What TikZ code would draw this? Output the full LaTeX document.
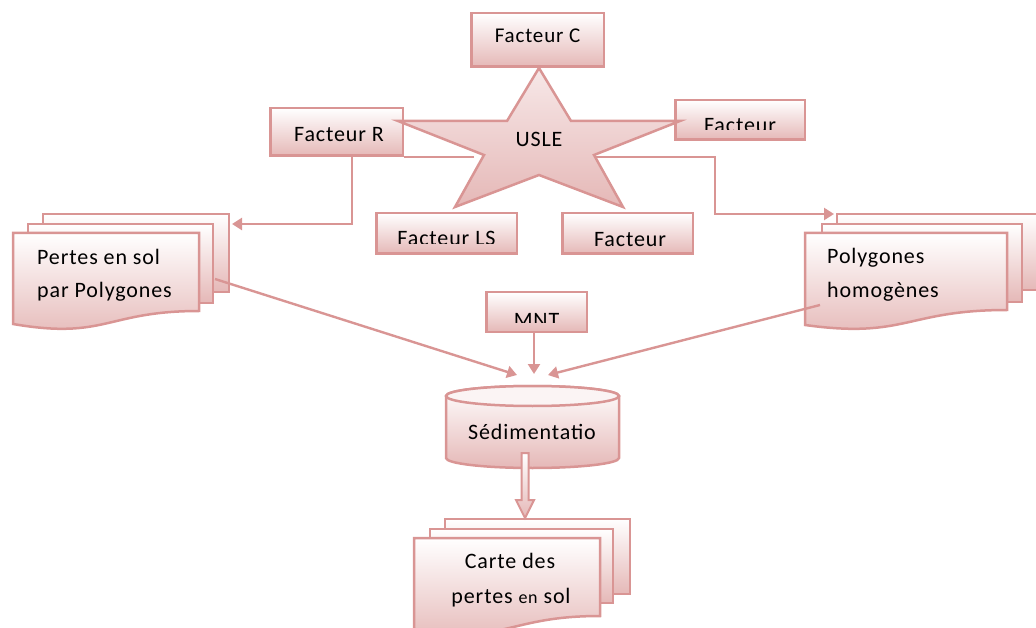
\documentclass[tikz,border=0pt]{standalone}
\usepackage{fontspec}
\setmainfont{Carlito}[LetterSpace=4]
\usetikzlibrary{arrows.meta}
\definecolor{edgepink}{RGB}{217,149,148}
\definecolor{fillpink}{RGB}{229,184,183}
\definecolor{starpink}{RGB}{247,232,232}
\tikzset{
  box/.style={draw=edgepink, line width=2.5pt, top color=white, bottom color=fillpink, inner sep=0pt},
  sheet/.style={draw=edgepink, line width=2.5pt, top color=white, bottom color=fillpink},
  starfill/.style={draw=edgepink, line width=2.5pt, top color=starpink, bottom color=fillpink},
  link/.style={draw=edgepink, line width=2.4pt},
  arr/.style={link, -{Triangle[length=10pt,width=12pt]}},
  lbl/.style={inner sep=0pt, anchor=base, font=\fontsize{22}{26}\selectfont},
}
\begin{document}
\begin{tikzpicture}[x=1pt, y=-1pt]
\useasboundingbox (0,0) rectangle (1036,628);
\clip (0,0) rectangle (1036,628);

% ---- factor boxes ----
\node[box, minimum width=132.5pt, minimum height=53.5pt] (bC)  at (537.5,40) {};
\node[box, minimum width=132.5pt, minimum height=47.5pt] (bR)  at (336.5,132) {};
\node[box, minimum width=129.5pt, minimum height=39.5pt] (bK)  at (740,120) {};
\node[box, minimum width=140.5pt, minimum height=40.5pt] (bLS) at (446.5,233.5) {};
\node[box, minimum width=130.5pt, minimum height=40.5pt] (bP)  at (627.5,233.5) {};
\node[box, minimum width=100.5pt, minimum height=39.5pt] (bMNT) at (536.5,312) {};

% ---- stacked documents: soil loss by polygons ----
\path[sheet] (43,214) rectangle (229,292);
\path[sheet] (28,224) rectangle (213,303);
\path[sheet] (13,233) -- (199,233) -- (199,311)
  .. controls (106,311) and (106,340) .. (13,324) -- cycle;
\coordinate (dLin)  at (232,224);
\coordinate (dLout) at (215,279);

% ---- stacked documents: homogeneous polygons ----
\path[sheet] (837,214) rectangle (1046,290);
\path[sheet] (822,224) rectangle (1022,302);
\path[sheet] (805,233) -- (1007,233) -- (1007,310)
  .. controls (906,310) and (906,339) .. (805,325) -- cycle;
\coordinate (dRin)  at (834,214);
\coordinate (dRout) at (820,305);

% ---- stacked documents: soil loss map ----
\path[sheet] (445,519) rectangle (630,594);
\path[sheet] (430,529) rectangle (613,603);
\path[sheet] (414,538) -- (600,538) -- (600,616)
  .. controls (507,616) and (507,645) .. (414,629) -- cycle;

% ---- sedimentation cylinder ----
\path[sheet] (446,396) -- (446,458)
  arc[start angle=180, end angle=0, x radius=86.5, y radius=10]
  -- (619,396)
  arc[start angle=0, end angle=-180, x radius=86.5, y radius=10] -- cycle;
\draw[draw=edgepink, line width=2.5pt, fill=white!85!fillpink]
  (532.5,396) ellipse[x radius=86.5, y radius=10];
\coordinate (inL) at (517,375);
\coordinate (inM) at (534,374);
\coordinate (inR) at (548,375);
\coordinate (sedBot) at (525,453);
\coordinate (mapTop) at (525,518);

% ---- USLE star ----
\path[starfill] (539,68) -- (571,121) -- (680,121) -- (594,155) -- (623,207)
  -- (539,175) -- (455,207) -- (484,155) -- (398,121) -- (507,121) -- cycle;
\coordinate (sL) at (474,157);
\coordinate (sR) at (596,157);

% ---- connectors ----
\draw[link] (sL) -- (bR.south east);
\draw[arr] ([xshift=15.5pt]bR.south) |- (dLin);
\draw[arr] (sR) -- ++(119,0) |- (dRin);
\draw[arr] (dLout) -- (inL);
\draw[arr] (bMNT.south -| inM) -- (inM);
\draw[arr] (dRout) -- (inR);

% block arrow from the cylinder to the map
\path[sheet, line width=2pt] ([xshift=-3.5pt]sedBot) -- ++(0,47) -- ++(-5.5,0)
  -- (mapTop) -- ++(9,-18) -- ++(-5.5,0) -- ([xshift=3.5pt]sedBot) -- cycle;

% ---- labels ----
\node[lbl, font=\fontsize{21}{25}\selectfont] (tC) at (537.5,43) {Facteur C};
\node[lbl] (tR) at (339,142) {Facteur R};
\node[lbl] (tP) at (630,247) {Facteur};
\node[lbl] (tU) at (539,147) {USLE};
\begin{scope}
  \clip (674,99) rectangle (806,130);
  \node[lbl] (tK) at (740,133) {Facteur};
\end{scope}
\begin{scope}
  \clip (375,212) rectangle (518,244);
  \node[lbl] (tLS) at (446.5,246) {Facteur LS};
\end{scope}
\begin{scope}
  \clip (485,291) rectangle (588,323);
  \node[lbl] (tM) at (536.5,327) {MNT};
\end{scope}
\node[lbl, anchor=base west] (tL1) at (37,265) {Pertes en sol};
\node[lbl, anchor=base west] (tL2) at (37,298) {par Polygones};
\node[lbl, anchor=base west] (tH1) at (827,264) {Polygones};
\node[lbl, anchor=base west] (tH2) at (827,298) {homogènes};
\node[lbl] (tS) at (532,439) {Sédimentatio};
\node[lbl] (tM1) at (510,568) {Carte des};
\node[lbl] (tM2) at (511,603) {pertes {\fontsize{18}{20}\selectfont en} sol};
\end{tikzpicture}
\end{document}
